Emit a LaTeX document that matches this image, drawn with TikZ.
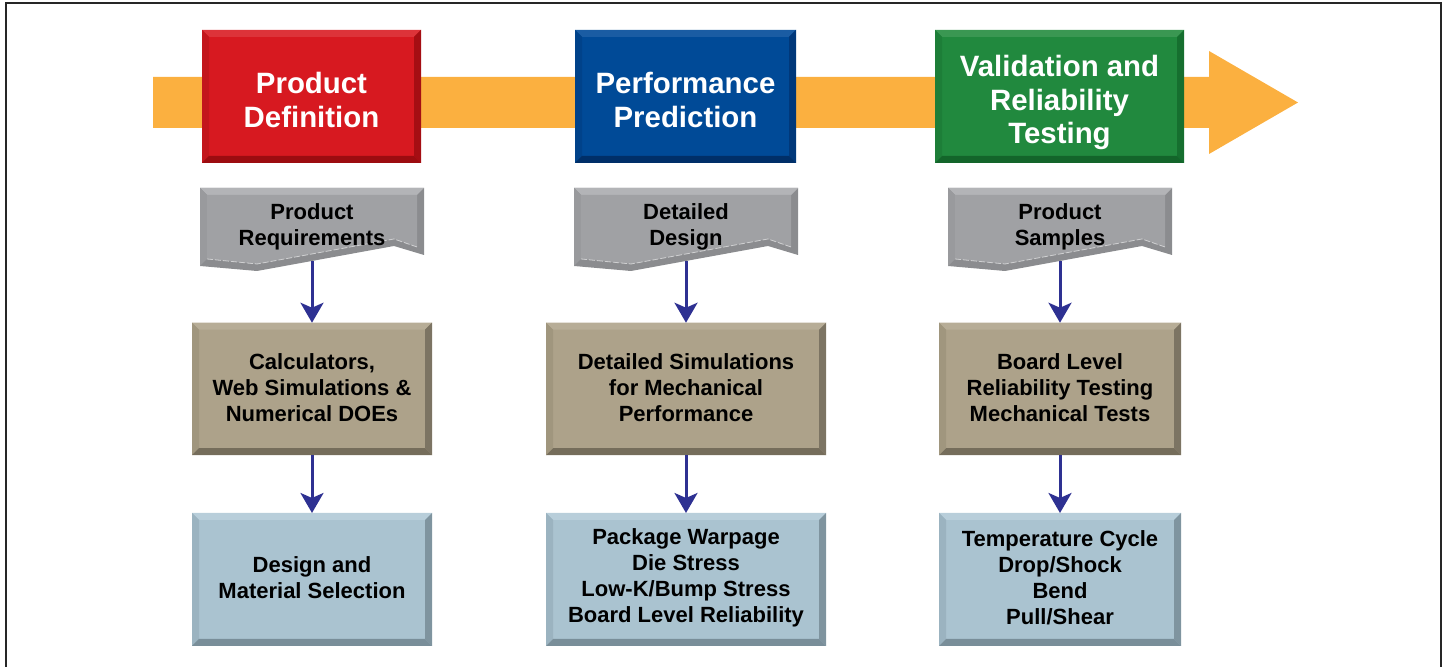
\documentclass[tikz,border=0pt]{standalone}
\usepackage{fontspec}
\setmainfont{Liberation Sans}
\usetikzlibrary{arrows.meta}
\definecolor{band}{HTML}{FBB040}
\definecolor{navy}{HTML}{2E3192}
\definecolor{redF}{HTML}{D71920}\definecolor{redT}{HTML}{DD3339}\definecolor{redL}{HTML}{C3161C}\definecolor{redR}{HTML}{A50E13}\definecolor{redB}{HTML}{9C0C10}
\definecolor{bluF}{HTML}{004A97}\definecolor{bluT}{HTML}{1A5CA3}\definecolor{bluL}{HTML}{00428A}\definecolor{bluR}{HTML}{00387A}\definecolor{bluB}{HTML}{002F68}
\definecolor{grnF}{HTML}{21893E}\definecolor{grnT}{HTML}{3A9752}\definecolor{grnL}{HTML}{1D7E38}\definecolor{grnR}{HTML}{166F2F}\definecolor{grnB}{HTML}{13652A}
\definecolor{tanF}{HTML}{ADA28A}\definecolor{tanT}{HTML}{B7AD97}\definecolor{tanL}{HTML}{A0967E}\definecolor{tanR}{HTML}{7C7463}\definecolor{tanB}{HTML}{756D5B}
\definecolor{lbF}{HTML}{AAC3D0}\definecolor{lbT}{HTML}{B8CEDA}\definecolor{lbL}{HTML}{9BB3C0}\definecolor{lbR}{HTML}{7F949F}\definecolor{lbB}{HTML}{798E99}
\definecolor{gyF}{HTML}{A0A1A4}\definecolor{gyT}{HTML}{B3B4B7}\definecolor{gyL}{HTML}{999A9D}\definecolor{gyD}{HTML}{8B8C8F}
\begin{document}
\begin{tikzpicture}[x=0.5pt,y=-0.5pt,
  bevbox/.style n args={5}{rectangle, inner sep=0pt, outer sep=0pt, fill=#1, align=center,
    path picture={
      \coordinate (bNW) at (path picture bounding box.north west);
      \coordinate (bNE) at (path picture bounding box.north east);
      \coordinate (bSW) at (path picture bounding box.south west);
      \coordinate (bSE) at (path picture bounding box.south east);
      \fill[#2] (bNW) -- (bNE) -- ([shift={(-3.5pt,-3.5pt)}]bNE) -- ([shift={(3.5pt,-3.5pt)}]bNW) -- cycle;
      \fill[#3] (bNW) -- (bSW) -- ([shift={(3.5pt,3.5pt)}]bSW) -- ([shift={(3.5pt,-3.5pt)}]bNW) -- cycle;
      \fill[#4] (bNE) -- (bSE) -- ([shift={(-3.5pt,3.5pt)}]bSE) -- ([shift={(-3.5pt,-3.5pt)}]bNE) -- cycle;
      \fill[#5] (bSW) -- (bSE) -- ([shift={(-3.5pt,3.5pt)}]bSE) -- ([shift={(3.5pt,3.5pt)}]bSW) -- cycle;
    }},
  hdrbox/.style={minimum height=66.5pt},
  hdr/.style={font=\fontsize{14.7}{16.8}\selectfont\bfseries, text=white, align=center, inner sep=0pt},
  body/.style={font=\fontsize{11}{13}\selectfont\bfseries, text=black},
  midbox/.style={bevbox={tanF}{tanT}{tanL}{tanR}{tanB}, minimum height=66.25pt},
  lowbox/.style={bevbox={lbF}{lbT}{lbL}{lbR}{lbB}, minimum height=66.5pt},
  boxtext/.style={body, align=center, inner sep=0pt},
  flow/.style={draw=navy, line width=1.5pt, -{Stealth[length=10pt,width=11.5pt,inset=2.5pt]}},
  frame/.style={draw=black!85, line width=1pt}
]
\useasboundingbox (0,0) rectangle (1447,667);
% frame
\draw[frame] (6,720) -- (6,3.5) -- (1441,3.5) -- (1441,720);
% orange band arrow
\fill[band] (153,77) -- (1209,77) -- (1209,51) -- (1298,102.5) -- (1209,154) -- (1209,128) -- (153,128) -- cycle;

% header boxes
\node[bevbox={redF}{redT}{redL}{redR}{redB}, hdrbox, minimum width=109.5pt] (h1) at (311.5,96.5) {};
\node[bevbox={bluF}{bluT}{bluL}{bluR}{bluB}, hdrbox, minimum width=110.5pt] (h2) at (685.5,96.5) {};
\node[bevbox={grnF}{grnT}{grnL}{grnR}{grnB}, hdrbox, minimum width=124.5pt] (h3) at (1059.5,96.5) {};
\node[hdr] (h1t) at (311.5,100) {Product\\Definition};
\node[hdr] (h2t) at (685.5,100) {Performance\\Prediction};
\node[hdr] (h3t) at (1059.5,102.5) {Validation and\\Reliability\\Testing};

% gray tabs
\foreach \L/\txt/\nm in {200/{Product\\Requirements}/g1, 574/{Detailed\\Design}/g2, 948/{Product\\Samples}/g3}{
  \fill[gyD] (\L,188) -- (\L+224,188) -- (\L+224,255) -- (\L+194,246) -- (\L+57,271) -- (\L,266) -- cycle;
  \fill[gyT] (\L,188) -- (\L+224,188) -- (\L+217,195) -- (\L+7,195) -- cycle;
  \fill[gyL] (\L,188) -- (\L+7,195) -- (\L+7,259) -- (\L,266) -- cycle;
  \fill[gyF] (\L+7,195) -- (\L+217,195) -- (\L+217,247) -- (\L+194,239) -- (\L+57,264) -- (\L+7,259) -- cycle;
  \draw[white, opacity=0.55, line width=0.4pt, dash pattern=on 3pt off 1pt] (\L+7,259) -- (\L+57,264) -- (\L+194,239) -- (\L+217,247);
  \node[boxtext] (\nm t) at (\L+112,227) {\txt};
  \coordinate (\nm) at (\L+112,261);
}

% middle boxes
\node[midbox, minimum width=120pt] (m1) at (312,389) {};
\node[midbox, minimum width=140pt] (m2) at (686,389) {};
\node[midbox, minimum width=121pt] (m3) at (1060,389) {};
\node[boxtext] (m1t) at (312,388) {Calculators,\\Web Simulations \&\\Numerical DOEs};
\node[boxtext] (m2t) at (686,388) {Detailed Simulations\\for Mechanical\\Performance};
\node[boxtext] (m3t) at (1060,388) {Board Level\\Reliability Testing\\Mechanical Tests};

% lower boxes
\node[lowbox, minimum width=120pt] (l1) at (312,579.5) {};
\node[lowbox, minimum width=140pt] (l2) at (686,579.5) {};
\node[lowbox, minimum width=121pt] (l3) at (1060,579.5) {};
\node[boxtext] (l1t) at (312,577.5) {Design and\\Material Selection};
\node[boxtext] (l2t) at (686,577.5) {Package Warpage\\Die Stress\\Low-K/Bump Stress\\Board Level Reliability};
\node[boxtext] (l3t) at (1060,577.5) {Temperature Cycle\\Drop/Shock\\Bend\\Pull/Shear};

% connectors
\draw[flow] (g1) -- (m1.north);
\draw[flow] (g2) -- (m2.north);
\draw[flow] (g3) -- (m3.north);
\draw[flow] (m1.south) -- (l1.north);
\draw[flow] (m2.south) -- (l2.north);
\draw[flow] (m3.south) -- (l3.north);
\end{tikzpicture}
\end{document}
